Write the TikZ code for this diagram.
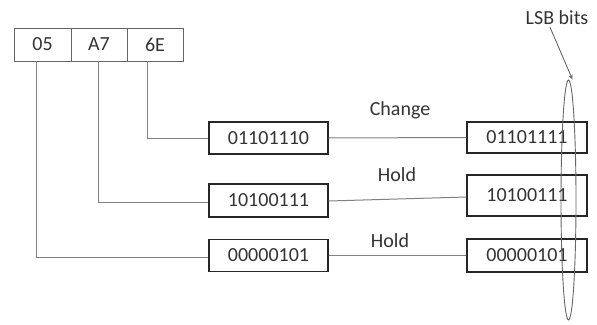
\documentclass[tikz,border=0pt]{standalone}
\usepackage{fontspec}
\setmainfont{Carlito}
\usetikzlibrary{shapes.geometric,arrows.meta}
\begin{document}
\begin{tikzpicture}[x=1pt,y=-1pt,
  every node/.style={font=\fontsize{20}{24}\selectfont, text=black!80},
  cell/.style={draw=black!60, line width=0.9pt, minimum height=33pt, inner sep=0pt},
  bytebox/.style={draw=black!85, line width=1.1pt, minimum height=32pt, inner sep=0pt},
  wire/.style={draw=black!50, line width=1pt},
  lbl/.style={inner sep=0pt}]
\useasboundingbox (0,0) rectangle (597,324);
% table
\node[cell, minimum width=57pt] (c05) at (42.5,44.5) {05};
\node[cell, minimum width=56pt] (cA7) at (99,44.5) {A7};
\node[cell, minimum width=56pt] (c6E) at (155,44.5) {6E};
% left boxes
\node[bytebox, minimum width=119pt] (l1) at (268.5,138) {01101110};
\node[bytebox, minimum width=119pt, minimum height=33pt] (l2) at (268.5,200.5) {10100111};
\node[bytebox, minimum width=119pt] (l3) at (268.5,255.5) {00000101};
% right boxes
\node[bytebox, minimum width=120pt, minimum height=31pt] (r1) at (527,137.5) {01101111};
\node[bytebox, minimum width=120pt, minimum height=41pt] (r2) at (527,195.5) {10100111};
\node[bytebox, minimum width=120pt, minimum height=33pt] (r3) at (527,255.5) {00000101};
% wires from table
\draw[wire] ([xshift=-8pt]c6E.south) |- (l1.west);
\draw[wire] ([xshift=-1pt]cA7.south) |- ([yshift=-1.5pt]l2.west);
\draw[wire] ([xshift=-6.5pt]c05.south) |- ([yshift=-1.5pt]l3.west);
% row connectors
\draw[wire] (l1.east) -- (r1.west);
\draw[wire] ([yshift=-0.5pt]l2.east) -- ([yshift=-1.5pt]r2.west);
\draw[wire] (l3.east) -- (r3.west);
% labels
\node[lbl] (tc) at (400,110) {Change};
\node[lbl] (th1) at (397,175) {Hold};
\node[lbl] (th2) at (390,241) {Hold};
% LSB ellipse
\node[draw=black!60, line width=0.9pt, ellipse, minimum width=15pt, minimum height=240pt, inner sep=0pt] (lsb) at (568.5,200) {};
\node[lbl] (lsbt) at (557,18) {LSB bits};
\draw[draw=black!60, line width=0.9pt, -{Stealth[length=5pt,width=4pt]}] ([xshift=-7pt,yshift=-2pt]lsbt.south) -- ([xshift=4pt]lsb.north);
\end{tikzpicture}
\end{document}
